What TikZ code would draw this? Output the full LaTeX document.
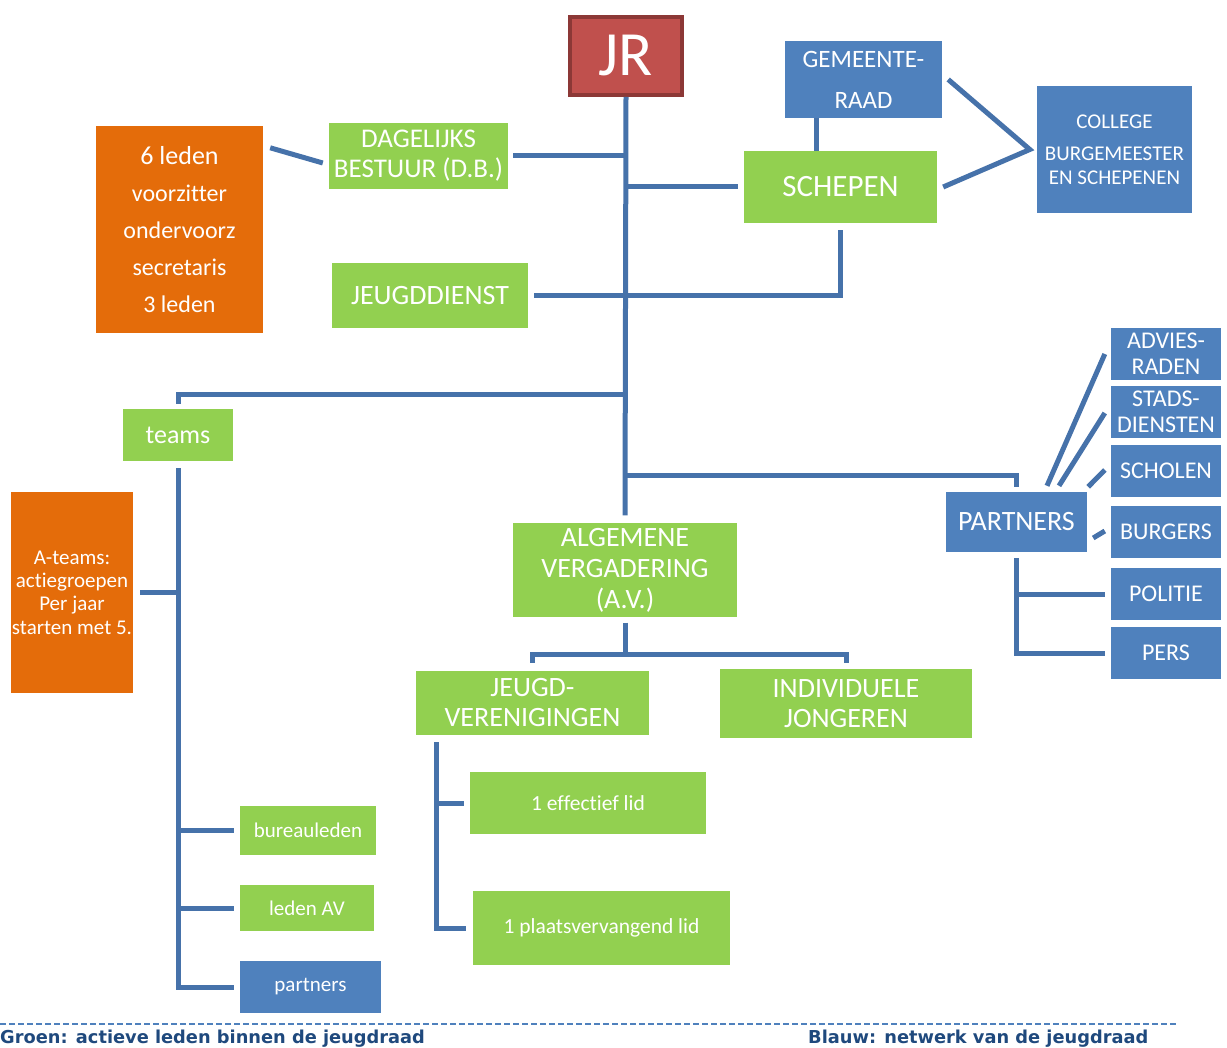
\documentclass[tikz,border=0pt]{standalone}
\usepackage{fontspec}
\setmainfont{Carlito}[Ligatures=CommonOff]
\newfontfamily\legendfont{DejaVu Sans}
\usetikzlibrary{calc}
\definecolor{groen}{RGB}{146,208,80}
\definecolor{blauw}{RGB}{79,129,189}
\definecolor{oranje}{RGB}{228,108,10}
\definecolor{rood}{RGB}{192,80,77}
\definecolor{roodrand}{RGB}{140,56,54}
\definecolor{lijn}{RGB}{70,114,170}
\definecolor{tekstblauw}{RGB}{31,73,125}

\begin{document}
\begin{tikzpicture}[x=1pt, y=-1pt]
        \tikzstyle{box}=[inner sep=0pt, align=center, text=white]
        \tikzstyle{actief}=[box, fill=groen]
        \tikzstyle{netwerk}=[box, fill=blauw]
        \tikzstyle{oranjebox}=[box, fill=oranje]
        \tikzstyle{hoofd}=[box, fill=rood, draw=roodrand, line width=4pt]
        \tikzstyle{link}=[draw=lijn, line width=5pt]
        \tikzstyle{legende}=[anchor=base west, inner sep=0pt, text=tekstblauw, font=\legendfont\bfseries\fontsize{17.8}{20}\selectfont]

        \useasboundingbox (0,0) rectangle (1227,1048);

        \node[hoofd, minimum width=112pt, minimum height=78pt, font=\fontsize{63}{63}\selectfont](jr) at (626,56){JR};
        \node[netwerk, minimum width=157pt, minimum height=77pt, font=\fontsize{25}{41}\selectfont](raad) at (863.5,79.5){GEMEENTE-\\RAAD};
        \node[actief, minimum width=193pt, minimum height=72pt, font=\fontsize{31}{36}\selectfont](schepen) at (840.5,187){SCHEPEN};
        \node[netwerk, minimum width=155pt, minimum height=127pt, font=\fontsize{21}{24}\selectfont](college) at (1114.5,149.5){COLLEGE\\[8pt]BURGEMEESTER\\EN SCHEPENEN};
        \node[actief, minimum width=179pt, minimum height=66pt, font=\fontsize{27}{30}\selectfont](db) at (418.5,156){DAGELIJKS\\BESTUUR (D.B.)};
        \node[oranjebox, minimum width=167pt, minimum height=207pt, font=\fontsize{24}{37}\selectfont](leden) at (179.5,229.5){{\fontsize{26}{37}\selectfont 6 leden}\\voorzitter\\ondervoorz\\secretaris\\3 leden};
        \node[actief, minimum width=196pt, minimum height=65pt, font=\fontsize{28}{30}\selectfont](dienst) at (430,295.5){JEUGDDIENST};

        \node[actief, minimum width=110pt, minimum height=52pt, font=\fontsize{26}{30}\selectfont](teams) at (178,435){teams};
        \node[oranjebox, minimum width=122pt, minimum height=201pt, font=\fontsize{21}{23.3}\selectfont](ateams) at (72,592.5){A-teams:\\actiegroepen\\Per jaar\\starten met 5.};
        \node[actief, minimum width=136pt, minimum height=49pt, font=\fontsize{21}{24}\selectfont](buro) at (308,830.5){bureauleden};
        \node[actief, minimum width=134pt, minimum height=46pt, font=\fontsize{21}{24}\selectfont](ledenav) at (307,908){leden AV};
        \node[netwerk, minimum width=141pt, minimum height=52pt, font=\fontsize{21}{24}\selectfont](partn) at (310.5,987){partners};

        \node[actief, minimum width=224pt, minimum height=93pt, font=\fontsize{28}{31}\selectfont](av) at (625,570){ALGEMENE\\VERGADERING\\(A.V.)};
        \node[actief, minimum width=233pt, minimum height=64pt, font=\fontsize{28}{30}\selectfont](jv) at (532.5,703){JEUGD-\\VERENIGINGEN};
        \node[actief, minimum width=252pt, minimum height=69pt, font=\fontsize{28}{30}\selectfont](ij) at (846,703.5){INDIVIDUELE\\JONGEREN};
        \node[actief, minimum width=236pt, minimum height=62pt, font=\fontsize{21.5}{24}\selectfont](eff) at (588,803){1 effectief lid};
        \node[actief, minimum width=257pt, minimum height=74pt, font=\fontsize{21.5}{24}\selectfont](plv) at (601.5,928){1 plaatsvervangend lid};

        \node[netwerk, minimum width=141pt, minimum height=60pt, font=\fontsize{28}{30}\selectfont](partners) at (1016.5,522){PARTNERS};
        \node[netwerk, minimum width=110pt, minimum height=52pt, font=\fontsize{24}{26}\selectfont](advies) at (1166,354){ADVIES-\\RADEN};
        \node[netwerk, minimum width=110pt, minimum height=52pt, font=\fontsize{24}{26}\selectfont](stads) at (1166,412){STADS-\\DIENSTEN};
        \node[netwerk, minimum width=110pt, minimum height=52pt, font=\fontsize{24}{26}\selectfont](scholen) at (1166,471){SCHOLEN};
        \node[netwerk, minimum width=110pt, minimum height=52pt, font=\fontsize{24}{26}\selectfont](burgers) at (1166,532){BURGERS};
        \node[netwerk, minimum width=110pt, minimum height=52pt, font=\fontsize{24}{26}\selectfont](politie) at (1166,594){POLITIE};
        \node[netwerk, minimum width=110pt, minimum height=52pt, font=\fontsize{24}{26}\selectfont](pers) at (1166,653){PERS};

        % stam en dagelijks bestuur
        \draw[link] (jr.south) -- ([yshift=8pt]av.north);
        \draw[link] ([xshift=5pt]db.east) -- (db.east -| jr.south);
        \draw[link] ($(leden.north east)+(7,22)$) -- ($(db.west)+(-6,7)$);

        % gemeente
        \draw[link] (jr.south |- schepen.west) -- ([xshift=-6pt]schepen.west);
        \draw[link] ([xshift=32pt]raad.south west) -- ([xshift=32pt]raad.south west |- schepen.north);
        \coordinate (cbs) at ([xshift=-7pt]college.west);
        \draw[link] ([xshift=6pt]raad.east) -- (cbs) -- ([xshift=6pt]schepen.east);
        \draw[link] ([yshift=-7pt]schepen.south) |- ([xshift=6pt]dienst.east);

        % teams
        \draw[link] ([yshift=14pt]teams.north -| jr.south) -| ([yshift=5pt]teams.north);
        \draw[link] ([yshift=-7pt]teams.south) |- ([xshift=-6pt]partn.west);
        \draw[link] (teams.south |- ateams.east) -- ([xshift=7pt]ateams.east);
        \draw[link] (teams.south |- buro.west) -- ([xshift=-6pt]buro.west);
        \draw[link] (teams.south |- ledenav.west) -- ([xshift=-6pt]ledenav.west);

        % partners
        \draw[link] ([yshift=16pt]partners.north -| jr.south) -| ([yshift=5pt]partners.north);
        \draw[link] ($(partners.north)+(30.5,-6)$) -- ([xshift=-6pt]advies.west);
        \draw[link] ($(partners.north)+(42.5,-6)$) -- ($(stads.west)+(-6,1)$);
        \draw[link] ($(partners.north east)+(1,-5)$) -- ($(scholen.west)+(-6,-1)$);
        \draw[link] ($(partners.east)+(6,16)$) -- ($(burgers.west)+(-6,-1)$);
        \draw[link] ([yshift=-6pt]partners.south) |- ([xshift=-6pt]pers.west);
        \draw[link] (partners.south |- politie.west) -- ([xshift=-6pt]politie.west);

        % algemene vergadering
        \coordinate (avsplit) at ([yshift=-38pt]av.south);
        \draw[link] ([yshift=-6pt]av.south) -- (avsplit);
        \draw[link] ([yshift=8pt]jv.north) |- (avsplit) -| ([yshift=6pt]ij.north);
        \draw[link] ([shift={(21,7)}]jv.south west) |- ([xshift=-7pt]plv.west);
        \draw[link] ([xshift=21pt]jv.south west |- eff.west) -- ([xshift=-6pt]eff.west);

        % legende
        \draw[blauw, line width=1.5pt, dash pattern=on 6pt off 3pt] (0,1024) -- (1177,1024);
        \node[legende](legGroen) at (0,1043){Groen: actieve leden binnen de jeugdraad};
        \node[legende](legBlauw) at (808,1043){Blauw: netwerk van de jeugdraad};
\end{tikzpicture}
\end{document}
